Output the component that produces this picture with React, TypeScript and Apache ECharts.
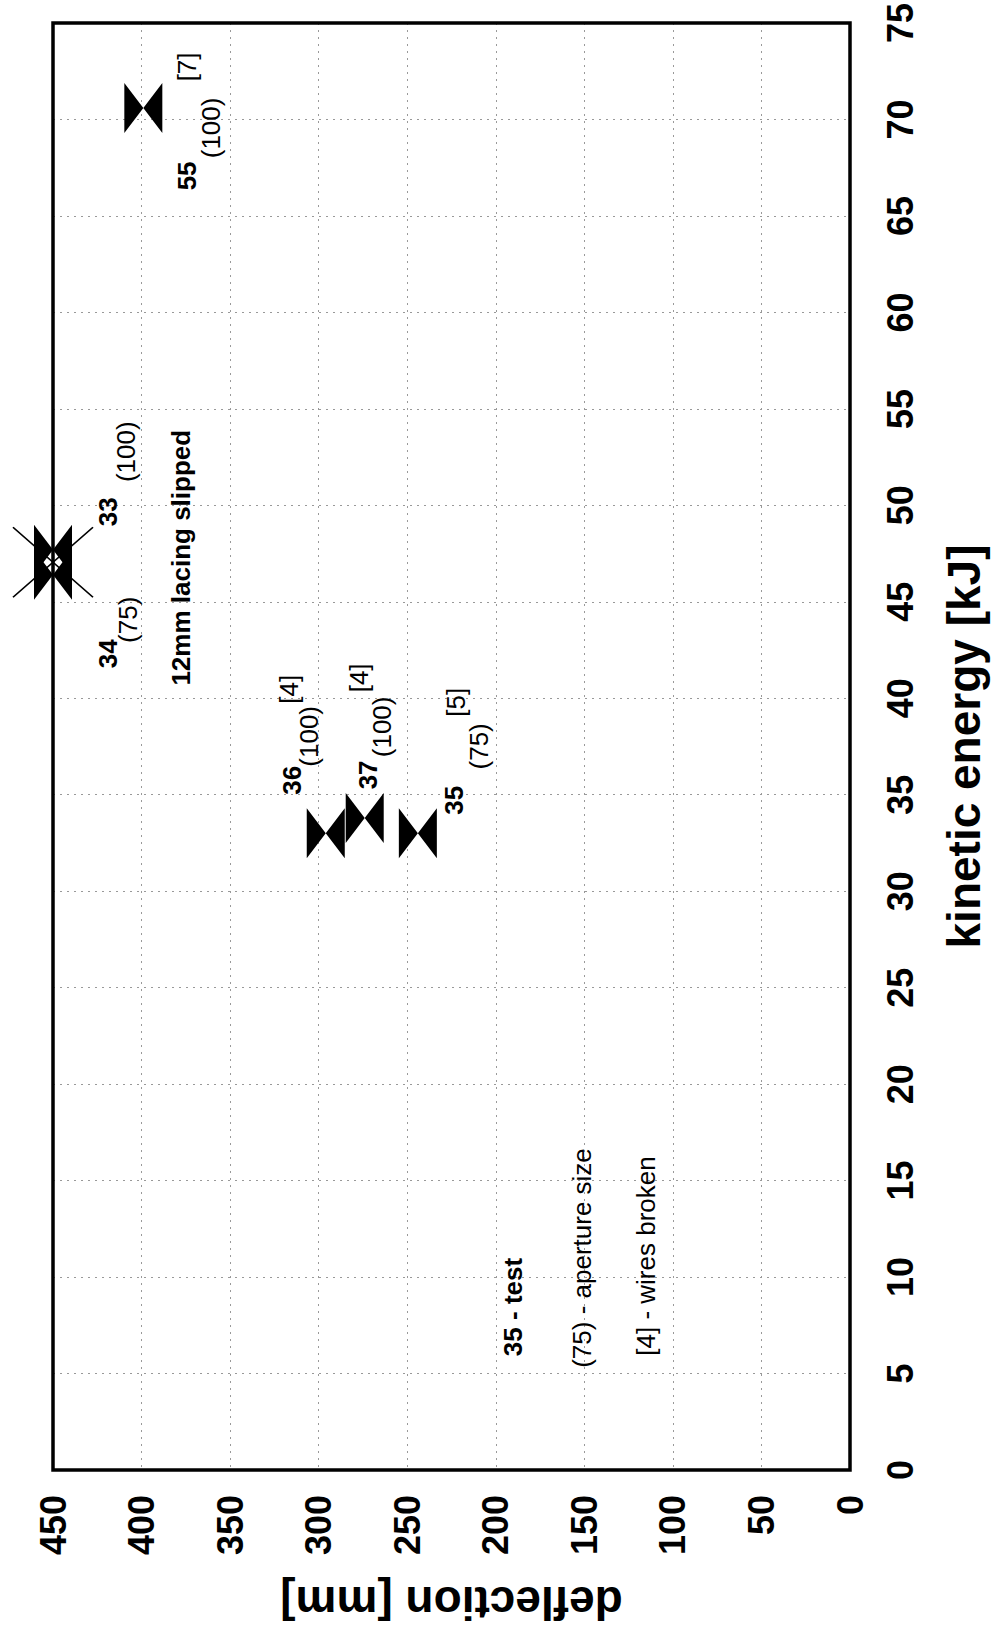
import React, { useEffect, useRef } from "react";
import * as echarts from "echarts";

// ---- data ----
const tests = ["55", "33", "34", "36", "37", "35"];
const kineticEnergy = [70.6, 47.7, 46.4, 33.0, 33.8, 33.0]; // kJ
const deflection = [399, 450, 450, 296, 274, 244]; // mm
const aperture = ["(100)", "(100)", "(75)", "(100)", "(100)", "(75)"];
const wiresBroken = ["[7]", "", "", "[4]", "[4]", "[5]"];
const slippedTests = ["33", "34"];
const slippedNote = "12mm lacing slipped";
const legendLines = ["35 - test", "(75) - aperture size", "[4] - wires broken"];

const energyAxis = { min: 0, max: 75, interval: 5 };
const deflectionAxis = { min: 0, max: 450, interval: 50 };

// ---- layout of annotations (pixel offsets from each marker) ----
const labelOffsets: Record<string, { num: number[]; ap: number[]; wires?: number[] }> = {
  "55": { num: [44, 68], ap: [68, 20], wires: [44, -41] },
  "33": { num: [55, -38], ap: [73, -98] },
  "34": { num: [55, 79], ap: [75, 45] },
  "36": { num: [-34, -53], ap: [-17, -97], wires: [-37, -144] },
  "37": { num: [3, -43], ap: [17, -91], wires: [-6, -140] },
  "35": { num: [36, -33], ap: [61, -87], wires: [38, -131] },
};
const noteOffset = [128, 8]; // relative to test 33 marker
const legendPos = [
  { x: 513, y: 1307, bold: true },
  { x: 582, y: 1258, bold: false },
  { x: 646, y: 1256, bold: false },
];

const BOWTIE = "path://M0,0L19,25L0,50ZM38,0L19,25L38,50Z";
const CROSS = "path://M0,0L80,70M0,70L80,0";
const SANS = '"Liberation Sans", Arial, Helvetica, sans-serif';

function rotText(text: string, x: number, y: number, bold: boolean, size = 26) {
  const font = `${bold ? "bold " : ""}${size}px ${SANS}`;
  return {
    type: "text",
    x,
    y,
    rotation: Math.PI / 2,
    z: 20,
    style: {
      text,
      font,
      fill: "#000",
      textFill: "#000",
      align: "center",
      verticalAlign: "middle",
      textAlign: "center",
      textVerticalAlign: "middle",
    },
  };
}

export default function App() {
  const ref = useRef<HTMLDivElement>(null);
  useEffect(() => {
    if (!ref.current) return;
    const chart = echarts.init(ref.current, null, { renderer: "svg" });
    const points = tests.map((_, i) => [deflection[i], kineticEnergy[i]]);
    const slippedIdx = tests.map((t, i) => (slippedTests.includes(t) ? i : -1)).filter((i) => i >= 0);
    const crossCenter = [
      slippedIdx.reduce((s, i) => s + deflection[i], 0) / slippedIdx.length,
      slippedIdx.reduce((s, i) => s + kineticEnergy[i], 0) / slippedIdx.length,
    ];

    const tickLabel = {
      rotate: 90,
      fontSize: 36,
      fontWeight: "bold",
      fontFamily: SANS,
      color: "#000",
    };
    const split = { show: true, lineStyle: { color: "#999", type: [2, 5], width: 1 } };

    chart.setOption({
      animation: false,
      backgroundColor: "#fff",
      grid: { left: 53, right: 143, top: 21, bottom: 165, containLabel: false },
      xAxis: {
        type: "value",
        inverse: true,
        position: "bottom",
        min: deflectionAxis.min,
        max: deflectionAxis.max,
        interval: deflectionAxis.interval,
        axisLine: { show: false },
        axisTick: { show: false },
        axisLabel: { ...tickLabel, margin: 25 },
        splitLine: split,
        name: "deflection [mm]",
        nameLocation: "middle",
        nameRotate: 180,
        nameGap: 110,
        nameTextStyle: { fontSize: 46, fontWeight: "bold", fontFamily: SANS, color: "#000" },
      },
      yAxis: {
        type: "value",
        position: "right",
        min: energyAxis.min,
        max: energyAxis.max,
        interval: energyAxis.interval,
        axisLine: { show: false },
        axisTick: { show: false },
        axisLabel: { ...tickLabel, margin: 32 },
        splitLine: split,
        name: "kinetic energy [kJ]",
        nameLocation: "middle",
        nameRotate: 90,
        nameGap: 91,
        nameTextStyle: { fontSize: 46, fontWeight: "bold", fontFamily: SANS, color: "#000" },
      },
      series: [
        {
          type: "scatter",
          name: "tests",
          clip: false,
          symbol: BOWTIE,
          symbolSize: [38, 50],
          itemStyle: { color: "#000", opacity: 1 },
          data: points,
          z: 5,
        },
        {
          type: "scatter",
          name: "slipped",
          clip: false,
          symbol: CROSS,
          symbolSize: [80, 70],
          itemStyle: { color: "rgba(0,0,0,0)", borderColor: "#000", borderWidth: 1.6, opacity: 1 },
          data: [crossCenter],
          z: 6,
        },
      ],
    });

    const px = (d: number, e: number) =>
      chart.convertToPixel({ xAxisIndex: 0, yAxisIndex: 0 }, [d, e]) as number[];

    const graphics: any[] = [];
    tests.forEach((t, i) => {
      const [cx, cy] = px(deflection[i], kineticEnergy[i]);
      const off = labelOffsets[t];
      graphics.push(rotText(t, cx + off.num[0], cy + off.num[1], true));
      graphics.push(rotText(aperture[i], cx + off.ap[0], cy + off.ap[1], false));
      if (wiresBroken[i] && off.wires) {
        graphics.push(rotText(wiresBroken[i], cx + off.wires[0], cy + off.wires[1], false));
      }
    });
    const i33 = tests.indexOf(slippedTests[0]);
    const [nx, ny] = px(deflection[i33], kineticEnergy[i33]);
    graphics.push(rotText(slippedNote, nx + noteOffset[0], ny + noteOffset[1], true));
    legendLines.forEach((line, k) => {
      graphics.push(rotText(line, legendPos[k].x, legendPos[k].y, legendPos[k].bold));
    });
    // plot frame
    const [x0, y0] = px(deflectionAxis.max, energyAxis.max);
    const [x1, y1] = px(deflectionAxis.min, energyAxis.min);
    graphics.push({
      type: "rect",
      z: 15,
      shape: { x: x0, y: y0, width: x1 - x0, height: y1 - y0 },
      style: { fill: "none", stroke: "#000", lineWidth: 3.5 },
    });
    chart.setOption({ graphic: graphics });
    return () => chart.dispose();
  }, []);
  return (
    <div
      ref={ref}
      style={{ position: "absolute", left: 0, top: 0, width: 995, height: 1635, background: "#fff" }}
    />
  );
}
